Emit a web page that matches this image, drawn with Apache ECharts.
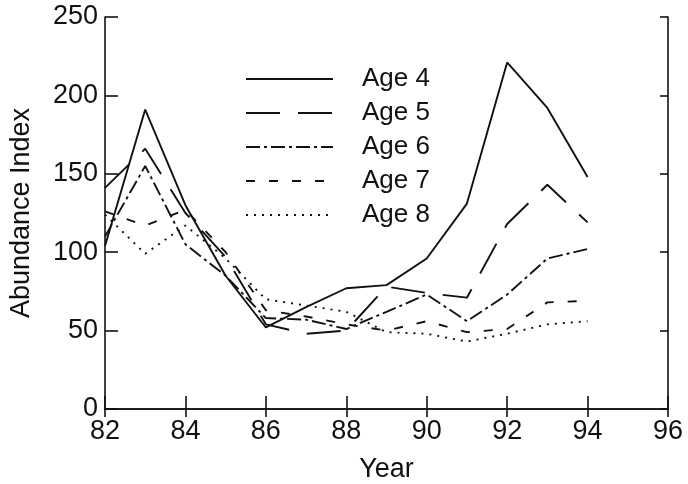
<!DOCTYPE html>
<html>
<head>
<meta charset="utf-8">
<script src="https://cdn.jsdelivr.net/npm/echarts@6/dist/echarts.min.js"></script>
<style>
  html, body { margin: 0; padding: 0; background: #fff; }
  #chart { width: 688px; height: 484px; }
</style>
</head>
<body>
<div id="chart"></div>
<script>
// Abundance index by age class, 1982-1994
const years = [82, 83, 84, 85, 86, 87, 88, 89, 90, 91, 92, 93, 94];
const age4 = [104, 191, 130, 85, 52, 65, 77, 79, 96, 131, 221, 192, 148];
const age5 = [141, 166, 125, 97, 54, 48, 50, 78, 74, 71, 118, 143, 119];
const age6 = [110, 155, 105, 85, 58, 57, 51, 62, 73, 56, 73, 96, 102];
const age7 = [126, 117, 127, 100, 63, 59, 54, 50, 56, 49, 51, 68, 69];
const age8 = [124, 99, 117, 96, 70, 66, 62, 49, 48, 43, 48, 54, 56];

const xTicks = [82, 84, 86, 88, 90, 92, 94, 96];
const yTicks = [0, 50, 100, 150, 200, 250];

const FONT = 'Liberation Sans, Arial, Helvetica, sans-serif';
const INK = '#111';

const pairs = (vals) => years.map((y, i) => [y, vals[i]]);

const seriesDefs = [
  { name: 'Age 4', data: age4, dash: 'solid' },
  { name: 'Age 5', data: age5, dash: [34, 18] },
  { name: 'Age 6', data: age6, dash: [14, 4, 3, 4] },
  { name: 'Age 7', data: age7, dash: [9, 14] },
  { name: 'Age 8', data: age8, dash: [2, 6] }
];

const axisCommon = {
  axisLine: { show: true, lineStyle: { color: INK, width: 1.6 } },
  splitLine: { show: false }
};

const chart = echarts.init(document.getElementById('chart'), null, { renderer: 'canvas' });

chart.setOption({
  animation: false,
  backgroundColor: '#fff',
  grid: {
    left: 105, right: 20, top: 17, bottom: 75,
    containLabel: false,
    outerBoundsMode: 'none'
  },
  legend: {
    show: true,
    orient: 'vertical',
    left: 240,
    top: 61,
    itemWidth: 87,
    itemHeight: 14,
    itemGap: 8,
    itemStyle: { opacity: 0, borderWidth: 0 },
    data: seriesDefs.map(s => s.name),
    textStyle: {
      fontFamily: FONT,
      fontSize: 26,
      color: INK,
      padding: [0, 0, 0, 24]
    }
  },
  xAxis: [
    Object.assign({}, axisCommon, {
      type: 'value',
      min: 82, max: 96, interval: 2,
      name: 'Year',
      nameLocation: 'middle',
      nameGap: 47,
      nameTextStyle: { fontFamily: FONT, fontSize: 27, color: INK },
      axisTick: { show: true, inside: true, length: 13, lineStyle: { color: INK, width: 1.6 } },
      axisLabel: {
        fontFamily: FONT, fontSize: 27, color: INK, margin: 9,
        customValues: xTicks
      }
    }),
    Object.assign({}, axisCommon, {
      type: 'value',
      position: 'top',
      min: 82, max: 96, interval: 2,
      axisTick: { show: true, inside: true, length: 8, lineStyle: { color: INK, width: 1.6 } },
      axisLabel: { show: false }
    })
  ],
  yAxis: [
    Object.assign({}, axisCommon, {
      type: 'value',
      min: 0, max: 250, interval: 50,
      name: 'Abundance Index',
      nameLocation: 'middle',
      nameGap: 70,
      nameTextStyle: { fontFamily: FONT, fontSize: 27, color: INK },
      axisTick: { show: true, inside: true, length: 13, lineStyle: { color: INK, width: 1.6 } },
      axisLabel: {
        fontFamily: FONT, fontSize: 27, color: INK, margin: 7,
        customValues: yTicks
      }
    }),
    Object.assign({}, axisCommon, {
      type: 'value',
      position: 'right',
      min: 0, max: 250, interval: 50,
      axisTick: { show: true, inside: true, length: 8, lineStyle: { color: INK, width: 1.6 } },
      axisLabel: { show: false }
    })
  ],
  series: seriesDefs.map(s => ({
    name: s.name,
    type: 'line',
    xAxisIndex: 0,
    yAxisIndex: 0,
    data: pairs(s.data),
    symbol: 'none',
    showSymbol: false,
    itemStyle: { color: INK },
    lineStyle: { color: INK, width: 1.9, type: s.dash },
    emphasis: { disabled: true }
  }))
});
</script>
</body>
</html>
